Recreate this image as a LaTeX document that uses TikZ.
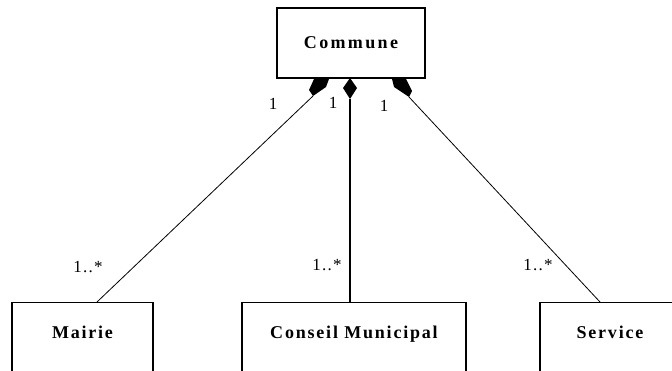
\documentclass[tikz,border=0pt]{standalone}
\usepackage{fontspec}
\setmainfont{Liberation Serif}
\newfontfamily\topfont[LetterSpace=13]{Liberation Serif}
\newfontfamily\boxfont[LetterSpace=10]{Liberation Serif}
\newfontfamily\multfont[LetterSpace=7]{Liberation Serif}

\begin{document}
\begin{tikzpicture}[x=1pt,y=-1pt,
  classbox/.style={draw, line width=1.3pt, inner sep=0pt,
    font=\boxfont\bfseries\fontsize{18}{20}\selectfont},
  lowbox/.style={classbox, anchor=north, text height=36pt, text depth=63pt},
  mult/.style={inner sep=0pt, font=\multfont\fontsize{17}{19}\selectfont},
  assoc/.style={line width=0.8pt},
  vassoc/.style={line width=1.3pt},
  comp/.style={fill=black}]
\useasboundingbox (0,0) rectangle (672,370);
\clip (0,0) rectangle (672,370);

% classes
\node[classbox, font=\topfont\bfseries\fontsize{18}{20}\selectfont,
      minimum width=148pt, minimum height=70pt] (commune) at (351,43) {Commune};
\node[lowbox, minimum width=141pt] (mairie)  at (82.5,302) {Mairie};
\node[lowbox, minimum width=224pt] (conseil) at (354,302) {Conseil Municipal};
\node[lowbox, minimum width=140pt] (service) at (610,302) {Service};

% composition diamonds under Commune
\fill[comp] (314,79) -- (329,79) -- (326,87) -- (313,96) -- (309,90) -- cycle;
\fill[comp] (350,78) -- (357,88) -- (350,99) -- (343,88) -- cycle;
\fill[comp] (392,79) -- (406,79) -- (412,91) -- (409,97) -- (394,87) -- cycle;

% connector end points
\coordinate (dL) at (313,96);
\coordinate (dM) at (350,99);
\coordinate (dR) at (409,97);
\coordinate (eL) at ([xshift=14.5pt]mairie.north);
\coordinate (eM) at ([xshift=-4pt]conseil.north);
\coordinate (eR) at ([xshift=-10pt]service.north);

\draw[assoc]  (dL) -- (eL);
\draw[vassoc] (dM) -- (eM);
\draw[assoc]  (dR) -- (eR);

% multiplicities
\node[mult] (mc1) at (273,104) {1};
\node[mult] (mc2) at (333,103) {1};
\node[mult] (mc3) at (384,106) {1};
\node[mult] (mm1) at (88,267) {1..*};
\node[mult] (mm2) at (327,265) {1..*};
\node[mult] (mm3) at (538,265) {1..*};
\end{tikzpicture}
\end{document}
